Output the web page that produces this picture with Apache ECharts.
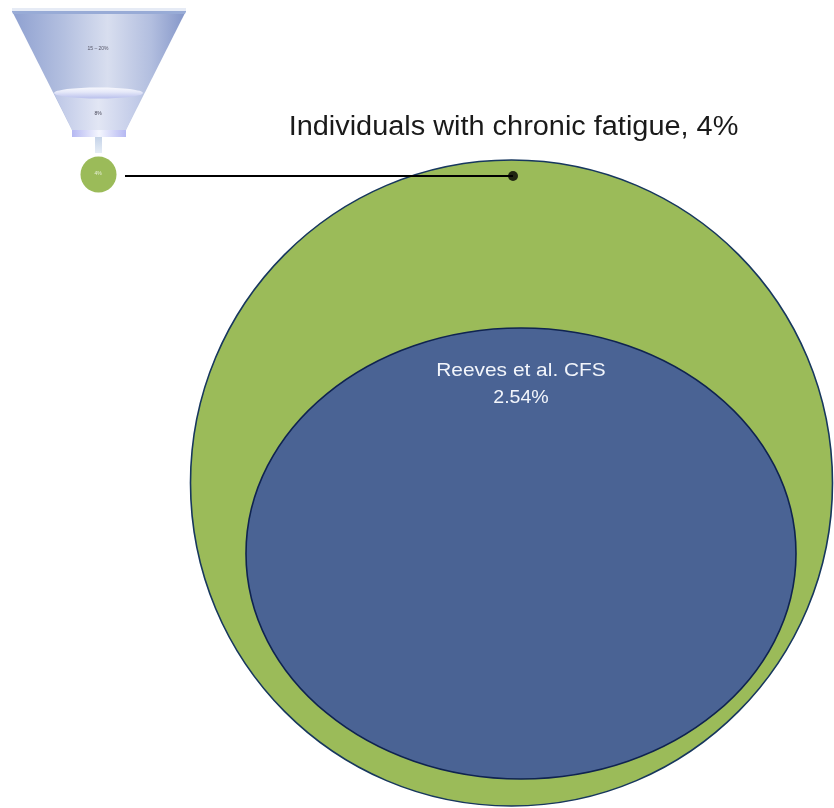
<!DOCTYPE html>
<html><head><meta charset="utf-8">
<style>html,body{margin:0;padding:0;background:#fff}#c{width:834px;height:808px;filter:blur(0.6px)}</style>
<script src="https://cdn.jsdelivr.net/npm/echarts@6/dist/echarts.min.js"></script></head>
<body><div id="c"></div>
<script>
// Content
const funnelLabels = ['15 – 20%', '8%', '4%'];
const outerLabel = 'Individuals with chronic fatigue';
const outerPercent = 4;
const innerLabel = 'Reeves et al. CFS';
const innerPercent = 2.54;

// Diagram layout, in the hidden axes' units: [centre x, centre y, radius x, radius y]
const ellipses = [
  [511.5, 483, 321, 323, '#9bbb59', '#17375e', 1.6],
  [521, 553.5, 275, 225.5, '#4a6394', '#0f2350', 1.6],
  [98.5, 174.5, 18, 18, '#9bbb59', null, 0]
];
const funnelBody = [[[12, 11], [186, 11], [126, 130], [72, 130]]];
const funnelLower = [[[54, 93], [143, 93], [126, 130], [72, 130]]];
const funnelBand = [[98.5, 93, 44.5, 5.5]];
const funnelNeck = [[72, 130, 54, 7]];
const stem = [[95, 137, 7, 16]];
const leader = [[125, 176], [513, 176]];
const leaderDot = [[513, 176]];
// [x, y, text, font size, colour, horizontal stretch]
const texts = [
  [513.5, 128, `${outerLabel}, ${outerPercent}%`, 27, '#1a1a1a', 1.07],
  [521, 371, innerLabel, 19, '#f2f5fb', 1.1],
  [521, 398, `${innerPercent}%`, 19, '#f2f5fb', 1.03],
  [98, 49, funnelLabels[0], 5, '#556', 1],
  [98, 114, funnelLabels[1], 5, '#445', 1],
  [98, 174, funnelLabels[2], 5, '#e8f0d8', 1]
];
const hGrad = (a, b) => ({type:'linear',x:0,y:0,x2:1,y2:0,colorStops:[{offset:0,color:a},{offset:.5,color:b},{offset:1,color:a}]});
const chart = echarts.init(document.getElementById('c'), null, {renderer:'canvas'});
chart.setOption({
  animation:false,
  grid:{left:0,right:0,top:0,bottom:0},
  xAxis:{type:'value',min:0,max:834,show:false},
  yAxis:{type:'value',min:0,max:808,inverse:true,show:false},
  series:[
    {type:'custom',coordinateSystem:'cartesian2d',clip:false,z:1,data:ellipses,
     renderItem:(p,api)=>{const d=ellipses[p.dataIndex],c=api.coord([d[0],d[1]]),s=api.size([d[2],d[3]]);
       return {type:'ellipse',shape:{cx:c[0],cy:c[1],rx:s[0],ry:s[1]},style:{fill:d[4],stroke:d[5],lineWidth:d[6]}};},
     encode:{x:0,y:1}},
    {type:'custom',coordinateSystem:'cartesian2d',z:2,data:funnelBody,
     renderItem:(p,api)=>{const pts=funnelBody[p.dataIndex].map(q=>api.coord(q));
       return {type:'group',children:[
         {type:'polygon',shape:{points:pts},style:{fill:{type:'linear',x:0,y:0,x2:1,y2:0,colorStops:[{offset:0,color:'#8ea0d0'},{offset:.3,color:'#b4c0e0'},{offset:.55,color:'#d8deef'},{offset:.8,color:'#b2bedf'},{offset:1,color:'#8395c8'}]}}},
         {type:'rect',shape:{x:pts[0][0],y:pts[0][1]-3,width:pts[1][0]-pts[0][0],height:3},style:{fill:'#e6ebf5'}},
         {type:'polygon',shape:{points:[[pts[0][0],pts[0][1]],[pts[1][0],pts[1][1]],[pts[1][0]-1,pts[1][1]+3],[pts[0][0]+1,pts[0][1]+3]]},style:{fill:'#98abd6'}}
       ]};},
     encode:{x:0,y:1}},
    {type:'custom',coordinateSystem:'cartesian2d',z:3,data:funnelLower,
     renderItem:(p,api)=>({type:'polygon',shape:{points:funnelLower[p.dataIndex].map(q=>api.coord(q))},style:{fill:hGrad('#bcc6e6','#e2e6f4')}}),
     encode:{x:0,y:1}},
    {type:'custom',coordinateSystem:'cartesian2d',z:4,data:funnelBand,
     renderItem:(p,api)=>{const d=funnelBand[p.dataIndex],c=api.coord([d[0],d[1]]),s=api.size([d[2],d[3]]);
       return {type:'ellipse',shape:{cx:c[0],cy:c[1],rx:s[0],ry:s[1]},style:{fill:{type:'linear',x:0,y:0,x2:0,y2:1,colorStops:[{offset:0,color:'#f6f7fd'},{offset:.4,color:'#e6e9f9'},{offset:1,color:'#b9c0ec'}]}}};},
     encode:{x:0,y:1}},
    {type:'custom',coordinateSystem:'cartesian2d',z:3,data:funnelNeck,
     renderItem:(p,api)=>{const d=funnelNeck[p.dataIndex],c=api.coord([d[0],d[1]]),s=api.size([d[2],d[3]]);
       return {type:'rect',shape:{x:c[0],y:c[1],width:s[0],height:s[1]},style:{fill:hGrad('#b5b8f2','#f4f6fe')}};},
     encode:{x:0,y:1}},
    {type:'custom',coordinateSystem:'cartesian2d',z:3,data:stem,
     renderItem:(p,api)=>{const d=stem[p.dataIndex],c=api.coord([d[0],d[1]]),s=api.size([d[2],d[3]]);
       return {type:'rect',shape:{x:c[0],y:c[1],width:s[0],height:s[1]},style:{fill:{type:'linear',x:0,y:0,x2:0,y2:1,colorStops:[{offset:0,color:'#c5d3e8'},{offset:1,color:'#e6edf6'}]}}};},
     encode:{x:0,y:1}},
    {type:'line',data:leader,symbol:'none',z:5,lineStyle:{color:'#000',width:2},silent:true},
    {type:'scatter',data:leaderDot,symbol:'circle',symbolSize:10,z:6,itemStyle:{color:'#000'},silent:true},
    {type:'custom',coordinateSystem:'cartesian2d',z:7,data:texts,
     renderItem:(p,api)=>{const d=texts[p.dataIndex],c=api.coord([d[0],d[1]]);
       return {type:'text',x:c[0],y:c[1],scaleX:d[5],style:{x:0,y:0,text:d[2],align:'center',verticalAlign:'middle',fontFamily:'Liberation Sans',fontSize:d[3],fill:d[4]}};},
     encode:{x:0,y:1}}
  ]
});
</script></body></html>
